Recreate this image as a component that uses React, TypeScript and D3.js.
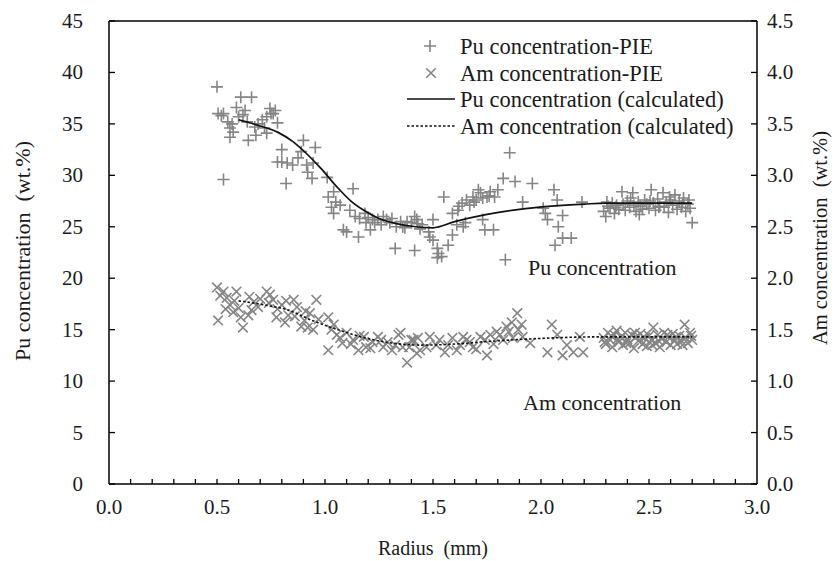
import React from "react";
import * as d3 from "d3";

// ---- data ----
const puPieR = [0.5, 0.505, 0.53, 0.53, 0.55, 0.56, 0.56, 0.575, 0.59, 0.6, 0.61, 0.63, 0.64, 0.645, 0.66, 0.675, 0.68, 0.71, 0.73, 0.73, 0.745, 0.75, 0.77, 0.78, 0.78, 0.8, 0.8, 0.82, 0.825, 0.85, 0.875, 0.89, 0.9, 0.915, 0.92, 0.94, 0.945, 0.955, 1.01, 1.015, 1.03, 1.04, 1.04, 1.05, 1.07, 1.085, 1.1, 1.115, 1.13, 1.14, 1.155, 1.16, 1.185, 1.19, 1.21, 1.22, 1.23, 1.245, 1.27, 1.285, 1.3, 1.325, 1.33, 1.35, 1.36, 1.38, 1.4, 1.415, 1.415, 1.425, 1.45, 1.48, 1.485, 1.5, 1.5, 1.52, 1.525, 1.52, 1.54, 1.55, 1.57, 1.59, 1.59, 1.61, 1.615, 1.635, 1.64, 1.65, 1.655, 1.67, 1.685, 1.7, 1.72, 1.73, 1.73, 1.74, 1.75, 1.765, 1.78, 1.785, 1.8, 1.825, 1.835, 1.855, 1.88, 1.915, 1.96, 2.01, 2.02, 2.03, 2.06, 2.065, 2.075, 2.08, 2.1, 2.1, 2.14, 2.19, 2.29, 2.3, 2.31, 2.32, 2.33, 2.34, 2.35, 2.36, 2.375, 2.38, 2.39, 2.4, 2.41, 2.425, 2.43, 2.44, 2.45, 2.46, 2.47, 2.48, 2.49, 2.5, 2.51, 2.52, 2.53, 2.54, 2.55, 2.565, 2.57, 2.58, 2.59, 2.6, 2.61, 2.62, 2.63, 2.64, 2.65, 2.66, 2.67, 2.68, 2.69, 2.7,
  0.52, 0.57, 0.62, 0.69, 0.72, 0.76, 1.2, 1.26, 1.31, 1.37, 1.43, 1.44, 1.62, 1.69, 1.76, 1.71, 2.305, 2.345, 2.415, 2.455, 2.505, 2.545, 2.595, 2.655, 2.685];
const puPieV = [38.6, 36.0, 36.0, 29.6, 35.2, 34.6, 33.7, 34.2, 36.6, 35.7, 37.6, 36.3, 35.2, 33.4, 37.6, 34.7, 33.9, 35.4, 35.7, 34.1, 36.5, 36.0, 36.3, 35.1, 31.3, 32.5, 31.3, 29.2, 31.2, 31.0, 31.7, 32.3, 33.4, 31.0, 30.3, 29.7, 31.2, 32.7, 29.8, 27.9, 26.9, 28.4, 26.3, 27.4, 27.1, 24.7, 24.5, 26.6, 28.7, 26.0, 24.0, 25.8, 26.3, 25.4, 24.7, 25.7, 25.4, 25.7, 26.0, 25.7, 25.4, 22.9, 25.0, 25.5, 25.0, 25.5, 25.4, 22.7, 26.0, 25.7, 25.2, 24.5, 24.0, 25.7, 23.7, 22.9, 22.4, 22.0, 22.1, 27.9, 23.2, 24.2, 26.3, 25.2, 26.6, 27.3, 25.0, 25.4, 27.6, 27.1, 27.9, 27.6, 28.3, 27.8, 25.7, 24.7, 27.9, 28.4, 24.7, 27.9, 28.6, 29.7, 21.8, 32.2, 29.4, 27.4, 29.2, 26.8, 26.3, 25.7, 28.6, 23.2, 27.6, 25.0, 26.1, 23.9, 23.9, 27.4, 26.5, 26.0, 27.0, 26.8, 27.3, 26.3, 27.1, 26.7, 28.4, 27.2, 26.6, 27.5, 26.9, 28.3, 27.1, 26.5, 27.4, 27.0, 26.7, 27.6, 27.2, 26.8, 28.6, 27.3, 26.6, 27.7, 27.0, 28.3, 26.9, 27.4, 26.4, 27.6, 27.1, 28.1, 26.7, 27.5, 26.9, 27.8, 26.5, 27.2, 26.8, 25.4,
  35.8, 35.0, 35.9, 35.0, 34.6, 36.0, 25.9, 25.2, 25.8, 24.9, 25.3, 24.8, 27.0, 27.4, 28.0, 28.6, 27.4, 26.9, 27.8, 26.2, 27.5, 26.9, 27.9, 27.2, 27.6];

const amPieR = [0.5, 0.505, 0.53, 0.545, 0.56, 0.575, 0.59, 0.6, 0.62, 0.645, 0.65, 0.67, 0.69, 0.73, 0.745, 0.76, 0.775, 0.8, 0.815, 0.83, 0.855, 0.87, 0.89, 0.905, 0.93, 0.945, 0.96, 1.015, 1.015, 1.04, 1.055, 1.08, 1.1, 1.13, 1.155, 1.18, 1.19, 1.22, 1.245, 1.27, 1.29, 1.325, 1.34, 1.35, 1.36, 1.38, 1.4, 1.41, 1.425, 1.44, 1.485, 1.515, 1.555, 1.59, 1.625, 1.655, 1.685, 1.72, 1.75, 1.765, 1.795, 1.825, 1.84, 1.865, 1.89, 1.895, 1.915, 1.95, 2.03, 2.05, 2.075, 2.1, 2.12, 2.15, 2.18, 2.195, 2.29, 2.3, 2.31, 2.32, 2.33, 2.34, 2.35, 2.36, 2.37, 2.38, 2.39, 2.4, 2.41, 2.42, 2.43, 2.44, 2.45, 2.46, 2.47, 2.48, 2.49, 2.5, 2.51, 2.52, 2.53, 2.54, 2.55, 2.56, 2.57, 2.58, 2.59, 2.6, 2.61, 2.62, 2.63, 2.64, 2.65, 2.665, 2.67, 2.68, 2.69, 2.7,
  0.515, 0.54, 0.58, 0.61, 0.66, 0.7, 0.74, 0.78, 0.82, 0.86, 0.91, 0.92, 0.97, 1.03, 1.07, 1.12, 1.16, 1.21, 1.26, 1.31, 1.39, 1.43, 1.47, 1.53, 1.57, 1.61, 1.64, 1.67, 1.7, 1.74, 1.78, 1.81, 1.85, 1.87, 1.91, 2.295, 2.325, 2.355, 2.395, 2.435, 2.475, 2.515, 2.545, 2.585, 2.625, 2.655, 2.695];
const amPieV = [1.91, 1.59, 1.87, 1.81, 1.74, 1.67, 1.87, 1.71, 1.52, 1.64, 1.82, 1.77, 1.72, 1.87, 1.84, 1.79, 1.62, 1.74, 1.57, 1.64, 1.79, 1.72, 1.53, 1.59, 1.66, 1.5, 1.79, 1.62, 1.3, 1.55, 1.45, 1.37, 1.47, 1.4, 1.3, 1.43, 1.33, 1.38, 1.43, 1.33, 1.38, 1.35, 1.45, 1.47, 1.33, 1.18, 1.4, 1.4, 1.27, 1.3, 1.43, 1.35, 1.28, 1.42, 1.35, 1.4, 1.33, 1.43, 1.25, 1.45, 1.48, 1.4, 1.53, 1.57, 1.66, 1.5, 1.43, 1.37, 1.28, 1.55, 1.45, 1.25, 1.35, 1.28, 1.43, 1.28, 1.42, 1.36, 1.47, 1.4, 1.33, 1.45, 1.49, 1.38, 1.43, 1.35, 1.47, 1.41, 1.37, 1.45, 1.32, 1.43, 1.39, 1.46, 1.36, 1.42, 1.34, 1.44, 1.4, 1.52, 1.37, 1.45, 1.33, 1.41, 1.47, 1.38, 1.43, 1.35, 1.46, 1.4, 1.36, 1.44, 1.39, 1.55, 1.42, 1.37, 1.47, 1.4,
  1.83, 1.7, 1.78, 1.62, 1.69, 1.8, 1.76, 1.7, 1.78, 1.63, 1.68, 1.52, 1.6, 1.5, 1.42, 1.36, 1.44, 1.32, 1.4, 1.3, 1.33, 1.42, 1.33, 1.4, 1.35, 1.3, 1.43, 1.38, 1.31, 1.4, 1.36, 1.45, 1.48, 1.42, 1.55, 1.38, 1.44, 1.41, 1.37, 1.47, 1.43, 1.35, 1.39, 1.45, 1.43, 1.35, 1.44];

const puCalcR = [0.6, 0.7, 0.78, 0.85, 0.92, 0.98, 1.05, 1.12, 1.18, 1.25, 1.33, 1.42, 1.5, 1.6, 1.75, 1.9, 2.05, 2.2, 2.3, 2.5, 2.7];
const puCalcV = [35.4, 34.8, 34.2, 33.3, 32.0, 30.7, 29.0, 27.5, 26.6, 25.8, 25.3, 25.0, 24.9, 25.5, 26.2, 26.7, 27.0, 27.2, 27.3, 27.3, 27.3];

const amCalcR = [0.6, 0.72, 0.83, 0.94, 1.06, 1.185, 1.31, 1.45, 1.6, 1.72, 1.95, 2.26, 2.7];
const amCalcV = [1.78, 1.74, 1.69, 1.59, 1.5, 1.42, 1.37, 1.35, 1.36, 1.38, 1.41, 1.43, 1.43];

const xTicks = [0, 0.5, 1.0, 1.5, 2.0, 2.5, 3.0];
const puTicks = [0, 5, 10, 15, 20, 25, 30, 35, 40, 45];
const amTicks = [0, 0.5, 1.0, 1.5, 2.0, 2.5, 3.0, 3.5, 4.0, 4.5];
const xMinor = d3.range(1, 30).map((i) => i / 10);

const legendLabels = [
  "Pu concentration-PIE",
  "Am concentration-PIE",
  "Pu concentration (calculated)",
  "Am concentration (calculated)",
];

const FONT = "'Liberation Serif', 'Times New Roman', serif";
const GRAY = "#858585";
const TXT = "#1a1a1a";

const plusPath = "M-6,0H6M0,-6V6";
const crossPath = "M-4.8,-4.8L4.8,4.8M-4.8,4.8L4.8,-4.8";

export default function App() {
  const W = 837;
  const H = 561;
  const L = 109, R = 757, T = 21, B = 484;
  const x = d3.scaleLinear().domain([0, 3]).range([L, R]);
  const yPu = d3.scaleLinear().domain([0, 45]).range([B, T]);
  const yAm = d3.scaleLinear().domain([0, 4.5]).range([B, T]);

  const puLine = d3
    .line<number>()
    .x((_, i) => x(puCalcR[i]))
    .y((d) => yPu(d))
    .curve(d3.curveMonotoneX);
  const amLine = d3
    .line<number>()
    .x((_, i) => x(amCalcR[i]))
    .y((d) => yAm(d))
    .curve(d3.curveMonotoneX);

  const legendY = [46, 73, 99, 126];

  return (
    <svg
      width={W}
      height={H}
      style={{ position: "absolute", left: 0, top: 0, background: "#fff" }}
      fontFamily={FONT}
    >
      <rect x={0} y={0} width={W} height={H} fill="#fff" />

      {/* data points */}
      <g stroke={GRAY} strokeWidth={1.6} fill="none">
        {amPieV.map((v, i) => (
          <path key={"a" + i} d={crossPath} transform={`translate(${x(amPieR[i])},${yAm(v)})`} />
        ))}
        {puPieV.map((v, i) => (
          <path key={"p" + i} d={plusPath} transform={`translate(${x(puPieR[i])},${yPu(v)})`} />
        ))}
      </g>

      {/* calculated lines */}
      <path d={puLine(puCalcV) || ""} fill="none" stroke="#111" strokeWidth={1.7} />
      <path d={amLine(amCalcV) || ""} fill="none" stroke="#111" strokeWidth={1.6} strokeDasharray="2.5,2" />

      {/* frame */}
      <g stroke="#000" strokeWidth={1.5} fill="none">
        <line x1={L} y1={T} x2={R} y2={T} />
        <line x1={L} y1={T} x2={L} y2={B} />
        <line x1={R} y1={T} x2={R} y2={B} />
        <line x1={L} y1={B} x2={R} y2={B} />
      </g>

      {/* left axis */}
      <g>
        {puTicks.map((t) => (
          <g key={"l" + t}>
            <line x1={L} x2={L + 6} y1={yPu(t)} y2={yPu(t)} stroke="#000" strokeWidth={1.3} />
            <text x={83} y={yPu(t)} textAnchor="end" dominantBaseline="central" fontSize={21} fill={TXT}>
              {d3.format("d")(t)}
            </text>
          </g>
        ))}
      </g>

      {/* right axis */}
      <g>
        {amTicks.map((t) => (
          <g key={"r" + t}>
            <line x1={R - 6} x2={R} y1={yAm(t)} y2={yAm(t)} stroke="#000" strokeWidth={1.3} />
            <text x={767} y={yAm(t)} textAnchor="start" dominantBaseline="central" fontSize={21} fill={TXT}>
              {d3.format(".1f")(t)}
            </text>
          </g>
        ))}
      </g>

      {/* bottom axis */}
      <g>
        {xMinor.map((t) => (
          <line key={"m" + t} x1={x(t)} x2={x(t)} y1={B} y2={B - 5} stroke="#000" strokeWidth={1.3} />
        ))}
        {xTicks.map((t) => (
          <text key={"b" + t} x={x(t)} y={507} textAnchor="middle" dominantBaseline="central" fontSize={21} fill={TXT}>
            {d3.format(".1f")(t)}
          </text>
        ))}
      </g>

      {/* axis titles */}
      <text x={433} y={548} textAnchor="middle" dominantBaseline="central" fontSize={20} fill={TXT} style={{ whiteSpace: "pre" }}>
        {"Radius  (mm)"}
      </text>
      <text
        transform={`translate(22,251) rotate(-90)`}
        textAnchor="middle"
        dominantBaseline="central"
        fontSize={22}
        fill={TXT}
        style={{ whiteSpace: "pre" }}
      >
        {"Pu concentration  (wt.%)"}
      </text>
      <text
        transform={`translate(820,238) rotate(-90)`}
        textAnchor="middle"
        dominantBaseline="central"
        fontSize={20.5}
        fill={TXT}
        style={{ whiteSpace: "pre" }}
      >
        {"Am concentration  (wt.%)"}
      </text>

      {/* legend */}
      <g>
        <path d={plusPath} transform={`translate(430,${legendY[0]})`} stroke={GRAY} strokeWidth={1.6} fill="none" />
        <path d={crossPath} transform={`translate(431,${legendY[1]})`} stroke={GRAY} strokeWidth={1.6} fill="none" />
        <line x1={407} x2={455} y1={legendY[2]} y2={legendY[2]} stroke="#111" strokeWidth={1.7} />
        <line x1={407} x2={455} y1={legendY[3]} y2={legendY[3]} stroke="#111" strokeWidth={1.6} strokeDasharray="2.5,2" />
        {legendLabels.map((s, i) => (
          <text key={s} x={460} y={legendY[i]} dominantBaseline="central" fontSize={22.5} fill={TXT}>
            {s}
          </text>
        ))}
      </g>

      {/* annotations */}
      <text x={528} y={267} dominantBaseline="central" fontSize={22} fill={TXT}>
        Pu concentration
      </text>
      <text x={523} y={402} dominantBaseline="central" fontSize={22} fill={TXT}>
        Am concentration
      </text>
    </svg>
  );
}
